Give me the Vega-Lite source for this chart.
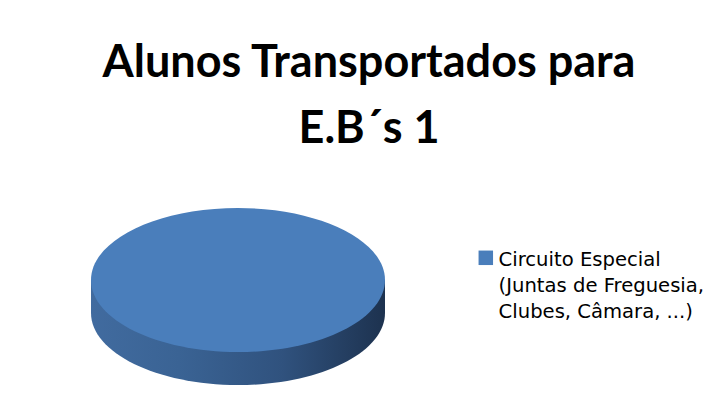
{
  "$schema": "https://vega.github.io/schema/vega-lite/v6.json",
  "width": 296,
  "height": 177,
  "autosize": "none",
  "padding": {"left": 90, "top": 208, "right": 332, "bottom": 27},
  "background": "white",
  "title": {
    "text": ["Alunos Transportados para", "E.B´s 1"],
    "font": "Lato",
    "fontSize": 45,
    "fontWeight": "bold",
    "color": "#000000",
    "lineHeight": 66,
    "anchor": "middle",
    "frame": "group",
    "dx": 131,
    "offset": 11,
    "baseline": "bottom"
  },
  "data": {
    "values": [
      {"categoria": "Circuito Especial (Juntas de Freguesia, Clubes, Câmara, ...)", "percentagem": 100}
    ]
  },
  "layer": [
    {
      "mark": {
        "type": "point",
        "shape": "M -1 -0.112 L -1 0.1125 A 1 0.49 0 0 0 1 0.1125 L 1 -0.112 Z",
        "size": 86436,
        "filled": true,
        "opacity": 1,
        "strokeWidth": 0,
        "fill": {
          "gradient": "linear",
          "x1": 0, "y1": 0, "x2": 1, "y2": 0,
          "stops": [
            {"offset": 0, "color": "#416b9f"},
            {"offset": 0.3, "color": "#3a6394"},
            {"offset": 0.65, "color": "#30527e"},
            {"offset": 1, "color": "#1d324f"}
          ]
        }
      },
      "encoding": {}
    },
    {
      "mark": {
        "type": "point",
        "shape": "M -1 -0.112 A 1 0.49 0 1 1 1 -0.112 A 1 0.49 0 1 1 -1 -0.112 Z",
        "size": 86436,
        "filled": true,
        "opacity": 1,
        "strokeWidth": 0
      },
      "encoding": {
        "color": {
          "field": "categoria",
          "type": "nominal",
          "scale": {"range": ["#4a7ebb"]},
          "legend": {
            "orient": "none",
            "legendX": 386,
            "legendY": 40,
            "title": null,
            "symbolType": "square",
            "symbolSize": 210,
            "symbolStrokeWidth": 0,
            "labelFont": "DejaVu Sans",
            "labelFontSize": 19.6,
            "labelColor": "#000000",
            "labelLimit": 0,
            "labelOffset": 3,
            "labelBaseline": "top",
            "labelExpr": "[slice(datum.label, 0, 17), slice(datum.label, 18, 39), slice(datum.label, 40)]"
          }
        },
        "tooltip": [
          {"field": "categoria", "type": "nominal"},
          {"field": "percentagem", "type": "quantitative"}
        ]
      }
    }
  ],
  "config": {
    "view": {"stroke": null},
    "style": {
      "guide-label": {"dy": -7, "lineHeight": 26}
    }
  }
}
